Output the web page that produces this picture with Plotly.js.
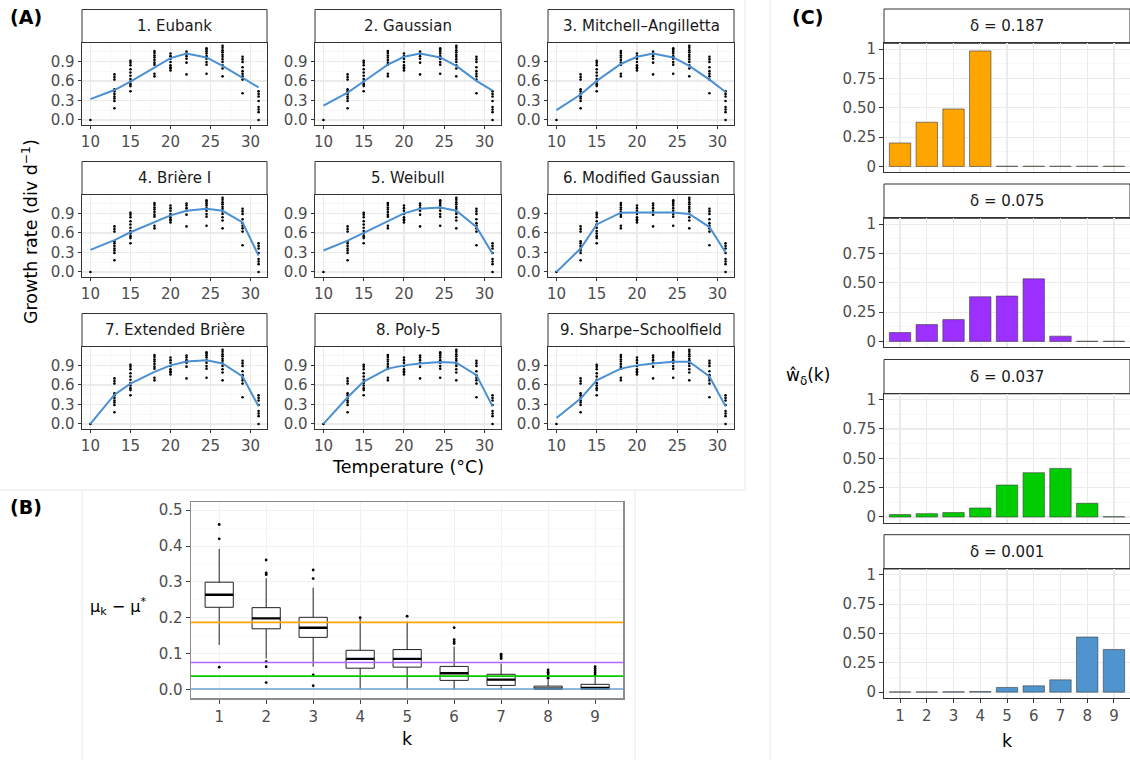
<!DOCTYPE html>
<html><head><meta charset="utf-8">
<script src="https://cdn.plot.ly/plotly-3.0.1.min.js"></script>
<style>html,body{margin:0;padding:0;background:#fff}</style>
</head><body><div id="chart" style="width:1130px;height:760px"></div>
<script>
// ---------- Panel A data ----------
const temps = [10, 13, 15, 18, 20, 22, 24.5, 26.5, 29, 31];
const obsRates = [
  [0.00],
  [0.70, 0.66, 0.62, 0.47, 0.44, 0.40, 0.36, 0.33, 0.29, 0.18],
  [0.91, 0.88, 0.84, 0.78, 0.73, 0.68, 0.63, 0.59, 0.55, 0.52, 0.44],
  [1.06, 1.03, 0.99, 0.96, 0.92, 0.88, 0.85, 0.71, 0.67],
  [1.02, 0.98, 0.94, 0.89, 0.84, 0.81, 0.79, 0.76],
  [1.05, 1.02, 0.98, 0.94, 0.88, 0.70],
  [1.10, 1.08, 1.05, 1.02, 0.98, 0.94, 0.89, 0.85, 0.71],
  [1.14, 1.11, 1.07, 1.04, 1.00, 0.97, 0.93, 0.89, 0.84, 0.79, 0.67],
  [0.97, 0.93, 0.89, 0.81, 0.75, 0.71, 0.67, 0.62, 0.41],
  [0.44, 0.40, 0.36, 0.29, 0.20, 0.16, 0.12, 0.00]
];
const modelNames = ["1. Eubank", "2. Gaussian", "3. Mitchell\u2013Angilletta",
  "4. Bri\u00e8re I", "5. Weibull", "6. Modified Gaussian",
  "7. Extended Bri\u00e8re", "8. Poly-5", "9. Sharpe\u2013Schoolfield"];
const fitEubank    = [0.32, 0.46, 0.59, 0.81, 0.95, 1.02, 0.96, 0.83, 0.64, 0.50];
const fitGaussian  = [0.22, 0.42, 0.59, 0.85, 0.97, 1.02, 0.96, 0.83, 0.60, 0.45];
const fitMitchell  = [0.15, 0.39, 0.60, 0.86, 0.97, 1.02, 0.96, 0.83, 0.62, 0.43];
const fitBriere1   = [0.34, 0.49, 0.61, 0.77, 0.87, 0.94, 0.97, 0.94, 0.76, 0.25];
const fitWeibull   = [0.33, 0.48, 0.60, 0.78, 0.90, 0.97, 0.99, 0.94, 0.69, 0.28];
const fitModGauss  = [0.00, 0.36, 0.73, 0.91, 0.915, 0.915, 0.915, 0.89, 0.69, 0.30];
const fitExtBriere = [0.00, 0.45, 0.62, 0.80, 0.90, 0.96, 0.98, 0.93, 0.73, 0.27];
const fitPoly5     = [0.00, 0.41, 0.65, 0.85, 0.90, 0.93, 0.95, 0.94, 0.75, 0.27];
const fitSharpe    = [0.09, 0.39, 0.67, 0.85, 0.90, 0.93, 0.955, 0.955, 0.73, 0.27];
const fits = [fitEubank, fitGaussian, fitMitchell, fitBriere1, fitWeibull,
              fitModGauss, fitExtBriere, fitPoly5, fitSharpe];
const tempTicks = [10, 15, 20, 25, 30];
const rateTicks = [0, 0.3, 0.6, 0.9];
const rateTickText = ["0.0", "0.3", "0.6", "0.9"];

// ---------- Panel B data ----------
const boxK    = [1, 2, 3, 4, 5, 6, 7, 8, 9];
const boxQ1   = [0.229, 0.169, 0.145, 0.059, 0.062, 0.025, 0.011, 0.000, 0.000];
const boxMed  = [0.264, 0.198, 0.172, 0.085, 0.085, 0.045, 0.027, 0.002, 0.004];
const boxQ3   = [0.299, 0.228, 0.201, 0.109, 0.111, 0.064, 0.042, 0.009, 0.014];
const boxLo   = [0.124, 0.086, 0.063, 0.000, 0.000, 0.000, 0.000, 0.000, 0.000];
const boxHi   = [0.392, 0.310, 0.284, 0.198, 0.189, 0.119, 0.072, 0.026, 0.035];
const outK = [1,1,1, 2,2,2,2,2,2, 3,3,3,3, 4, 5, 6,6,6,6, 7,7,7,7, 8,8,8,8,8, 9,9,9,9,9];
const outV = [0.460,0.420,0.062, 0.361,0.325,0.320,0.077,0.063,0.019, 0.333,0.309,0.040,0.010,
              0.200, 0.204, 0.172,0.139,0.133,0.128, 0.098,0.094,0.090,0.086,
              0.054,0.048,0.043,0.036,0.031, 0.063,0.058,0.052,0.046,0.040];
const deltas = [0.187, 0.075, 0.037, 0.001];
const deltaLabels = ["0.187", "0.075", "0.037", "0.001"];
const deltaBarColors = ["#FFA500", "#9B30FF", "#00CD00", "#4F94CD"];
const deltaLineColors = ["#FFA500", "#B266FF", "#00CD00", "#6CA0D0"];
const bTicks = [0, 0.1, 0.2, 0.3, 0.4, 0.5];
const bTickText = ["0.0", "0.1", "0.2", "0.3", "0.4", "0.5"];

// ---------- Panel C data ----------
const kVals = [1, 2, 3, 4, 5, 6, 7, 8, 9];
const wDelta187 = [0.20, 0.377, 0.49, 0.985, 0.002, 0.002, 0.002, 0.002, 0.002];
const wDelta075 = [0.076, 0.144, 0.186, 0.381, 0.387, 0.534, 0.045, 0.002, 0.002];
const wDelta037 = [0.020, 0.028, 0.037, 0.076, 0.272, 0.377, 0.414, 0.116, 0.002];
const wDelta001 = [0.002, 0.002, 0.003, 0.005, 0.040, 0.054, 0.105, 0.470, 0.363];
const wSeries = [wDelta187, wDelta075, wDelta037, wDelta001];
const wTicks = [0, 0.25, 0.5, 0.75, 1];
const wTickText = ["0", "0.25", "0.50", "0.75", "1"];

// ---------- layout helpers ----------
const W = 1130, H = 760;
const fx = p => p / W;
const fy = p => 1 - p / H;
const FONT = "DejaVu Sans, Liberation Sans, Arial, sans-serif";
const data = [];
const layout = {
  width: W, height: H, margin: {l: 0, r: 0, t: 0, b: 0},
  paper_bgcolor: "#fff", plot_bgcolor: "#fff", showlegend: false,
  font: {family: FONT, color: "#000"},
  shapes: [], annotations: []
};
const ax = n => (n === 1 ? "" : String(n));

function strip(x0, x1, top, bottom, text) {
  layout.shapes.push({type: "rect", xref: "paper", yref: "paper",
    x0: fx(x0), x1: fx(x1), y0: fy(bottom), y1: fy(top),
    fillcolor: "#fff", line: {color: "#333", width: 1}, layer: "below"});
  layout.annotations.push({xref: "paper", yref: "paper", x: fx((x0 + x1) / 2), y: fy((top + bottom) / 2),
    text: text, showarrow: false, xanchor: "center", yanchor: "middle",
    font: {size: 15, color: "#1a1a1a", family: FONT}});
}

// ---------- Panel A ----------
const colX = [[82, 267], [315, 501], [548, 734]];
const rowTop = [9.5, 161.5, 313.5];
const stripH = 33, plotH = 82;
for (let i = 0; i < 9; i++) {
  const n = i + 1, r = Math.floor(i / 3), c = i % 3;
  const [x0, x1] = colX[c];
  const st = rowTop[r], pt = st + stripH, pb = pt + plotH;
  layout["xaxis" + ax(n)] = {
    domain: [fx(x0), fx(x1)], range: [8.95, 32.05], anchor: "y" + ax(n),
    tickvals: tempTicks, ticks: "outside", ticklen: 3.5, tickcolor: "#333", tickwidth: 1,
    showgrid: true, gridcolor: "#ebebeb", gridwidth: 1.2,
    minor: {tickvals: [12.5, 17.5, 22.5, 27.5], showgrid: true, gridcolor: "#f4f4f4", gridwidth: 0.7},
    showline: true, mirror: true, linecolor: "#333", linewidth: 1, zeroline: false,
    tickfont: {size: 15, color: "#4d4d4d", family: FONT}, fixedrange: true
  };
  layout["yaxis" + ax(n)] = {
    domain: [fy(pb), fy(pt)], range: [-0.07, 1.19], anchor: "x" + ax(n),
    tickvals: rateTicks, ticktext: rateTickText, ticks: "outside", ticklen: 3.5, tickcolor: "#333", tickwidth: 1,
    showgrid: true, gridcolor: "#ebebeb", gridwidth: 1.2,
    minor: {tickvals: [0.15, 0.45, 0.75, 1.05], showgrid: true, gridcolor: "#f4f4f4", gridwidth: 0.7},
    showline: true, mirror: true, linecolor: "#333", linewidth: 1, zeroline: false,
    tickfont: {size: 15, color: "#4d4d4d", family: FONT}, fixedrange: true
  };
  strip(x0, x1, st, pt, modelNames[i]);
  const px = [], py = [];
  temps.forEach((t, j) => obsRates[j].forEach(v => { px.push(t); py.push(v); }));
  data.push({type: "scatter", mode: "markers", x: px, y: py, xaxis: "x" + ax(n), yaxis: "y" + ax(n),
    marker: {color: "#000", size: 2.6}, hoverinfo: "skip"});
  data.push({type: "scatter", mode: "lines", x: temps, y: fits[i], xaxis: "x" + ax(n), yaxis: "y" + ax(n),
    line: {color: "#4A90D2", width: 2}, hoverinfo: "skip"});
}
layout.annotations.push({xref: "paper", yref: "paper", x: fx(30), y: fy(232),
  text: "Growth rate (div d<sup>\u22121</sup>)", textangle: -90, showarrow: false,
  xanchor: "center", yanchor: "middle", font: {size: 17.5, color: "#000", family: FONT}});
layout.annotations.push({xref: "paper", yref: "paper", x: fx(408), y: fy(467),
  text: "Temperature (\u00b0C)", showarrow: false,
  xanchor: "center", yanchor: "middle", font: {size: 17.5, color: "#000", family: FONT}});

// ---------- Panel B ----------
const nb = 10;
layout["xaxis" + nb] = {
  domain: [fx(191), fx(623.3)], range: [0.4, 9.6], anchor: "y" + nb,
  tickvals: boxK, ticks: "outside", ticklen: 4, tickcolor: "#444", tickwidth: 1,
  showgrid: true, gridcolor: "#f1f1f1", gridwidth: 1,
  showline: true, mirror: true, linecolor: "#8c8c8c", linewidth: 1.5, zeroline: false,
  tickfont: {size: 15, color: "#4d4d4d", family: FONT}, fixedrange: true
};
layout["yaxis" + nb] = {
  domain: [fy(698.3), fy(502.3)], range: [-0.025, 0.522], anchor: "x" + nb,
  tickvals: bTicks, ticktext: bTickText, ticks: "outside", ticklen: 4, tickcolor: "#444", tickwidth: 1,
  showgrid: true, gridcolor: "#f1f1f1", gridwidth: 1,
  minor: {tickvals: [0.05, 0.15, 0.25, 0.35, 0.45], showgrid: true, gridcolor: "#f7f7f7", gridwidth: 0.6},
  showline: true, mirror: true, linecolor: "#8c8c8c", linewidth: 1.5, zeroline: false,
  tickfont: {size: 15, color: "#4d4d4d", family: FONT}, fixedrange: true
};
data.push({type: "box", x: boxK, q1: boxQ1, median: boxMed, q3: boxQ3,
  lowerfence: boxLo, upperfence: boxHi, width: 0.6, whiskerwidth: 0,
  boxpoints: false, fillcolor: "#fff", line: {color: "#222", width: 1},
  xaxis: "x" + nb, yaxis: "y" + nb, hoverinfo: "skip"});
data.push({type: "scatter", mode: "markers", x: boxK, y: boxMed, xaxis: "x" + nb, yaxis: "y" + nb,
  marker: {symbol: "line-ew", size: 20, line: {color: "#000", width: 2.4}}, hoverinfo: "skip"});
data.push({type: "scatter", mode: "markers", x: outK, y: outV, xaxis: "x" + nb, yaxis: "y" + nb,
  marker: {color: "#000", size: 2.8}, hoverinfo: "skip"});
deltas.forEach((d, i) => layout.shapes.push({type: "line", xref: "x" + nb + " domain", yref: "y" + nb,
  x0: 0, x1: 1, y0: d, y1: d, line: {color: deltaLineColors[i], width: 1.6}, layer: "above"}));
layout.annotations.push({xref: "paper", yref: "paper", x: fx(118), y: fy(606),
  text: "<span style=\"color:#000\">\u03bc<sub>k</sub> \u2212 \u03bc<sup>*</sup></span>", showarrow: false,
  xanchor: "center", yanchor: "middle", font: {size: 16, color: "#000", family: FONT}});
layout.annotations.push({xref: "paper", yref: "paper", x: fx(407), y: fy(739),
  text: "k", showarrow: false, xanchor: "center", yanchor: "middle",
  font: {size: 17.5, color: "#000", family: FONT}});

// ---------- Panel C ----------
const cStripTop = [9, 184, 359.5, 534.7];
const cStripH = 34.3, cPlotH = 129;
for (let i = 0; i < 4; i++) {
  const n = 11 + i;
  const st = cStripTop[i], pt = st + cStripH, pb = pt + cPlotH;
  const last = i === 3;
  layout["xaxis" + n] = {
    domain: [fx(884), 1], range: [0.4, 9.6], anchor: "y" + n,
    tickvals: kVals, ticks: last ? "outside" : "", ticklen: 4, tickcolor: "#333", tickwidth: 1,
    showticklabels: last,
    showgrid: true, gridcolor: "#ebebeb", gridwidth: 1.2,
    showline: true, mirror: true, linecolor: "#333", linewidth: 1, zeroline: false,
    tickfont: {size: 15, color: "#4d4d4d", family: FONT}, fixedrange: true
  };
  layout["yaxis" + n] = {
    domain: [fy(pb), fy(pt)], range: [-0.05, 1.05], anchor: "x" + n,
    tickvals: wTicks, ticktext: wTickText, ticks: "outside", ticklen: 4, tickcolor: "#333", tickwidth: 1,
    showgrid: true, gridcolor: "#ebebeb", gridwidth: 1.2,
    minor: {tickvals: [0.125, 0.375, 0.625, 0.875], showgrid: true, gridcolor: "#f4f4f4", gridwidth: 0.7},
    showline: true, mirror: true, linecolor: "#333", linewidth: 1, zeroline: false,
    tickfont: {size: 15, color: "#4d4d4d", family: FONT}, fixedrange: true
  };
  strip(884, 1130, st, pt, "\u03b4 = " + deltaLabels[i]);
  data.push({type: "bar", x: kVals, y: wSeries[i], width: 0.8, xaxis: "x" + n, yaxis: "y" + n,
    marker: {color: deltaBarColors[i], line: {color: "rgba(60,60,60,0.85)", width: 0.7}}, hoverinfo: "skip"});
}
layout.annotations.push({xref: "paper", yref: "paper", x: fx(808), y: fy(376),
  text: "\u0175<sub>\u03b4</sub>(k)", showarrow: false, xanchor: "center", yanchor: "middle",
  font: {size: 17, color: "#000", family: FONT}});
layout.annotations.push({xref: "paper", yref: "paper", x: fx(1007), y: fy(741),
  text: "k", showarrow: false, xanchor: "center", yanchor: "middle",
  font: {size: 17.5, color: "#000", family: FONT}});

// ---------- panel labels & separators ----------
[["(A)", 8, 17], ["(B)", 8, 507], ["(C)", 790, 17]].forEach(([t, x, y]) =>
  layout.annotations.push({xref: "paper", yref: "paper", x: fx(x), y: fy(y), text: "<b>" + t + "</b>",
    showarrow: false, xanchor: "left", yanchor: "middle", font: {size: 19, color: "#000", family: FONT}}));
const sep = {color: "#e8e8e8", width: 1};
[[745, 0, 745, 490], [0, 490, 745, 490], [82, 490, 82, 760], [635, 490, 635, 760], [770, 0, 770, 760]]
  .forEach(([a, b, c, d]) => layout.shapes.push({type: "line", xref: "paper", yref: "paper",
    x0: fx(a), y0: fy(b), x1: fx(c), y1: fy(d), line: sep, layer: "below"}));

Plotly.newPlot("chart", data, layout, {staticPlot: true, displayModeBar: false});
</script></body></html>
